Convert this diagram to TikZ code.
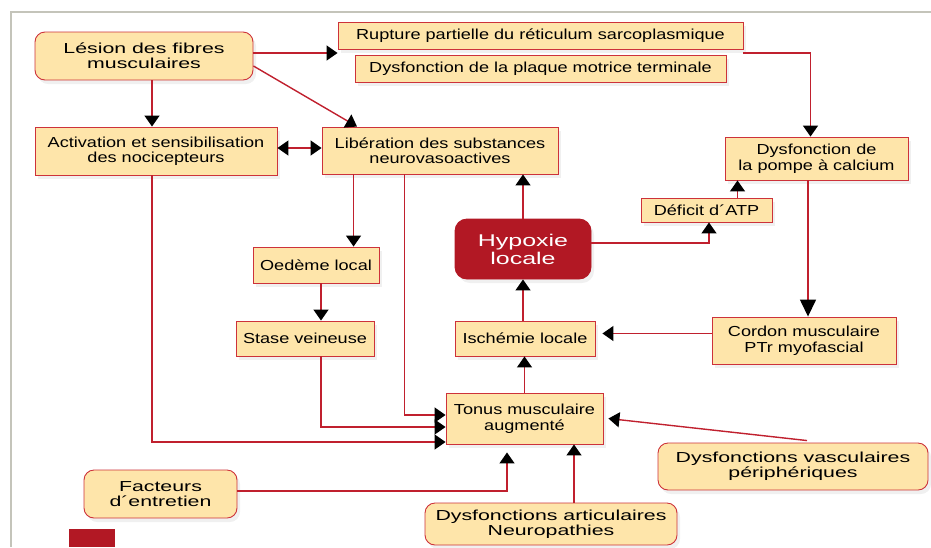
\documentclass[tikz,border=0pt]{standalone}
\usepackage{fontspec}
\setmainfont[FakeStretch=1.25]{Liberation Sans}
\newfontfamily\widefont[FakeStretch=1.47]{Liberation Sans}
\usetikzlibrary{arrows.meta, positioning, calc, shadows}

\definecolor{boxfill}{RGB}{254,229,170}
\definecolor{boxline}{RGB}{205,50,58}
\definecolor{linkred}{RGB}{192,32,46}
\definecolor{hypred}{RGB}{178,24,36}
\definecolor{framegray}{RGB}{196,196,186}

\begin{document}
\begin{tikzpicture}[
    x=1pt, y=-1pt,
    box/.style={draw=boxline, fill=boxfill, line width=0.9pt, inner sep=2pt, align=center,
      font=\fontsize{14.5}{15.5}\selectfont,
      drop shadow={shadow xshift=3pt, shadow yshift=-4pt, opacity=0.12}},
    rbox/.style={box, rounded corners=10pt, font=\widefont\fontsize{14.5}{15}\selectfont},
    hbox/.style={box, draw=hypred, fill=hypred, text=white, rounded corners=12pt,
      font=\widefont\fontsize{17}{18}\selectfont},
    arr/.style={draw=linkred, line width=1.4pt, -{Triangle[length=11pt, width=15pt, color=black]}},
    bigarr/.style={arr, -{Triangle[length=17pt, width=16pt, color=black]}},
    arrboth/.style={arr, {Triangle[length=11pt, width=15pt, color=black]}-{Triangle[length=11pt, width=15pt, color=black]}}
  ]

    \useasboundingbox (0,0) rectangle (931,547);

    %% ── frame ──
    \draw[framegray, line width=1.4pt] (11,547) -- (11,12) -- (931,12);
    \fill[hypred] (69,529) rectangle (115,547);

    %% ── top row ──
    \node[rbox, minimum width=218pt, minimum height=48pt] (lesion) at (144,56) {Lésion des fibres\\musculaires};
    \node[box, minimum width=405pt, minimum height=27pt] (rupture) at (540.5,35.5) {Rupture partielle du réticulum sarcoplasmique};
    \node[box, minimum width=371pt, minimum height=27pt] (plaque) at (540.5,68.5) {Dysfonction de la plaque motrice terminale};

    %% ── second row ──
    \node[box, minimum width=242pt, minimum height=48pt] (activ) at (156,151) {Activation et sensibilisation\\des nocicepteurs};
    \node[box, minimum width=236pt, minimum height=47pt] (liber) at (440,150.5) {Libération des substances\\neurovasoactives};
    \node[box, minimum width=183pt, minimum height=43pt] (pompe) at (816.5,158.5) {Dysfonction de\\la pompe à calcium};
    \node[box, minimum width=131pt, minimum height=24pt] (deficit) at (706.5,210) {Déficit d´ATP};

    %% ── middle ──
    \node[hbox, minimum width=136pt, minimum height=60pt] (hypox) at (523,249) {Hypoxie\\locale};
    \node[box, minimum width=126pt, minimum height=36pt] (oedeme) at (316,265) {Oedème local};
    \node[box, minimum width=138pt, minimum height=35pt] (stase) at (305,338.5) {Stase veineuse};
    \node[box, minimum width=140pt, minimum height=35pt] (ischem) at (525,338.5) {Ischémie locale};
    \node[box, minimum width=184pt, minimum height=47pt] (cordon) at (804,340.5) {Cordon musculaire\\PTr myofascial};

    %% ── bottom ──
    \node[box, minimum width=157pt, minimum height=51pt] (tonus) at (524.5,418.5) {Tonus musculaire\\augmenté};
    \node[rbox, minimum width=270pt, minimum height=47pt] (vascul) at (793,466.5) {Dysfonctions vasculaires\\périphériques};
    \node[rbox, minimum width=153pt, minimum height=48pt] (facteurs) at (160.5,494) {Facteurs\\d´entretien};
    \node[rbox, minimum width=252pt, minimum height=42pt] (articul) at (551,524) {Dysfonctions articulaires\\Neuropathies};

    %% ═══════ ARROWS ═══════
    \draw[arr] ([yshift=3pt]lesion.east) -- ([yshift=3pt]lesion.east -| rupture.west);
    \draw[arr] ([yshift=-10pt]lesion.east) -- ([xshift=-83pt]liber.north);
    \draw[arr] ([xshift=-4pt]activ.north |- lesion.south) -- ([xshift=-4pt]activ.north);
    \draw[arrboth] ([yshift=3pt]activ.east) -- ([yshift=3pt]activ.east -| liber.west);
    \draw[arr] ([yshift=-17.5pt]rupture.east) -| ([xshift=-6pt]pompe.north);

    \draw[arr] ([xshift=32pt]liber.south west) -- ([xshift=32pt]liber.south west |- oedeme.north);
    \draw[arr] ([xshift=83pt]liber.south west) |- ([yshift=3.5pt]tonus.west);
    \draw[arr] ([xshift=-4pt]activ.south) |- ([yshift=-23.5pt]tonus.west);
    \draw[arr] ([xshift=5pt]oedeme.south) -- ([xshift=5pt]oedeme.south |- stase.north);
    \draw[arr] ([xshift=16pt]stase.south) |- ([yshift=-8.5pt]tonus.west);

    %% tonus -> ischemie -> hypoxie -> liberation
    \draw[arr] (tonus.north) -- (tonus.north |- ischem.south);
    \draw[arr] (ischem.north -| hypox.south) -- (hypox.south);
    \draw[arr] (hypox.north) -- (hypox.north |- liber.south);

    \draw[arr] ([yshift=6pt]hypox.east) -| ([xshift=2.5pt]deficit.south);
    \draw[arr] ([xshift=31pt]deficit.north) -- ([xshift=31pt]deficit.north |- pompe.south);
    \draw[bigarr] ([xshift=-8.5pt]pompe.south) -- ([xshift=-8.5pt]pompe.south |- cordon.north);
    \draw[arr] ([yshift=7pt]cordon.west) -- ([yshift=7pt,xshift=7pt]cordon.west -| ischem.east);

    %% into tonus from below / right
    \draw[arr] ([xshift=14pt,yshift=2pt]vascul.north) -- ([xshift=5pt]tonus.east);
    \draw[arr] ([yshift=3pt]facteurs.east) -| ([xshift=-17.5pt,yshift=-8pt]tonus.south);
    \draw[arr] ([xshift=23pt]articul.north) -- ([xshift=23pt]articul.north |- tonus.south);

  \end{tikzpicture}
\end{document}
